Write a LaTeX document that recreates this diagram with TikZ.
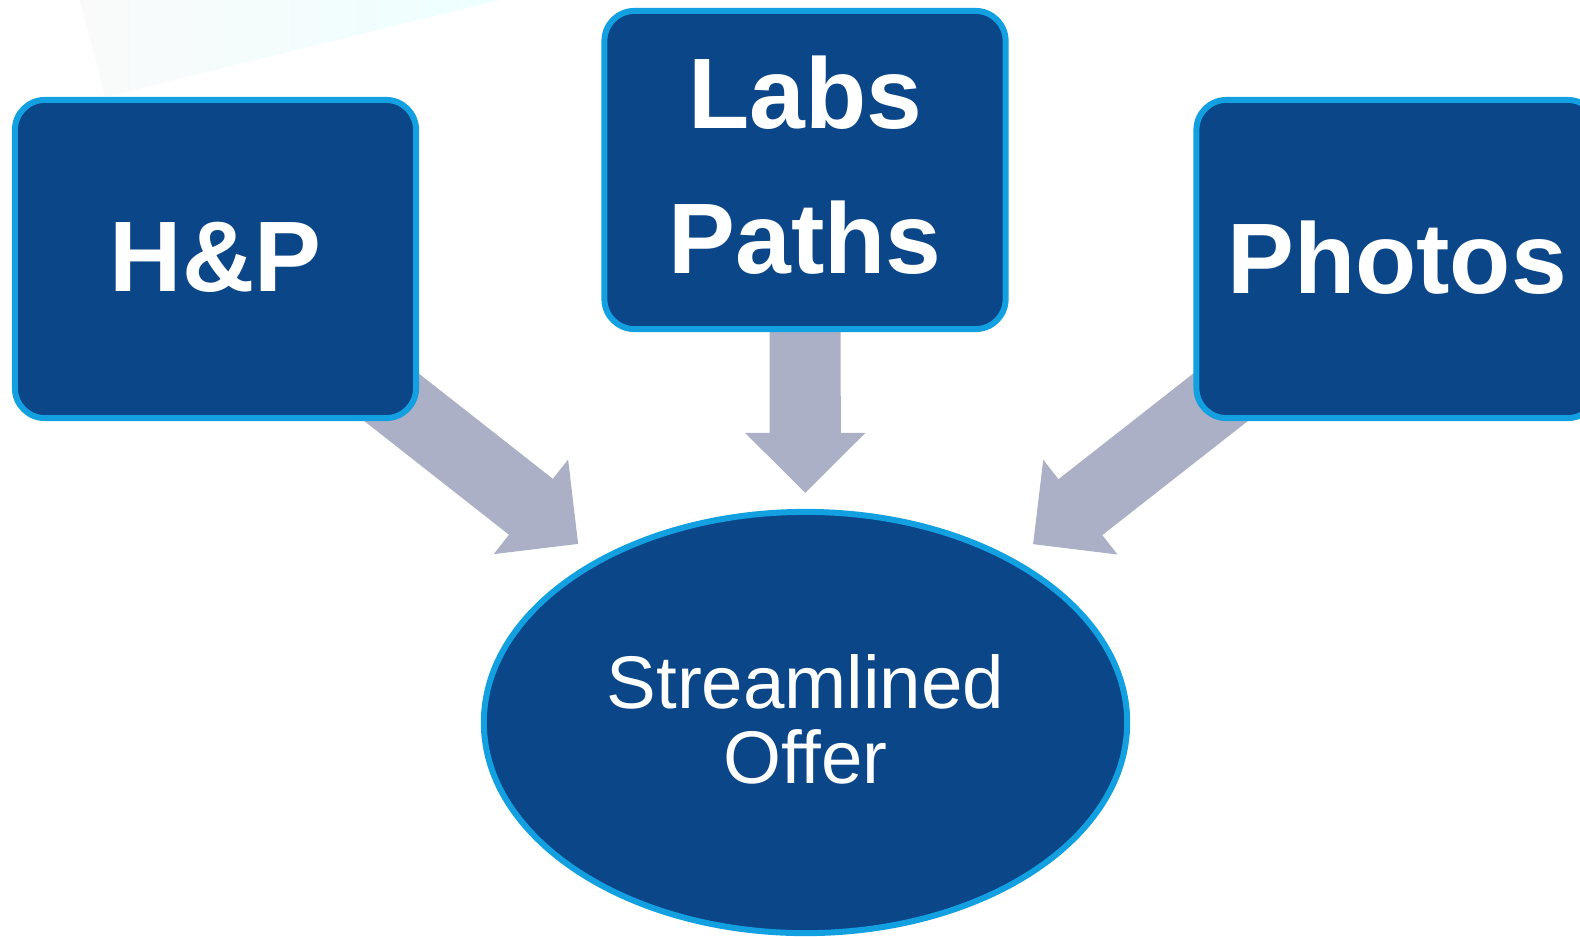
\documentclass[tikz,border=0pt]{standalone}
\usepackage{fontspec}
\setmainfont{Liberation Sans}
\usetikzlibrary{arrows.meta,shapes.geometric}
\definecolor{boxblue}{RGB}{11,70,137}
\definecolor{rimblue}{RGB}{18,160,225}
\definecolor{arrowgray}{RGB}{171,176,198}
\pgfdeclarelayer{background}
\pgfsetlayers{background,main}

\begin{document}
\begin{tikzpicture}[x=0.01cm, y=-0.01cm]
		\useasboundingbox (0,0) rectangle (1580,936);
		\tikzstyle{every node} = [fill=boxblue, draw=rimblue, line width=1.7pt, text=white, inner sep=0pt]
		\tikzstyle{card} = [rectangle, rounded corners=0.3cm, minimum width=4.01cm, minimum height=3.18cm, font=\fontsize{28.5}{41.3}\selectfont\bfseries, align=center]
		\node[card, text depth=1.2pt] (hp) at (215.5,259) {H\&P};
		\node[card, text depth=2.9pt] (labs) at (805,170) {Labs\\Paths};
		\node[card, text depth=1.2pt] (photos) at (1397,259) {Photos};
		\node[ellipse, minimum width=6.43cm, minimum height=4.21cm, font=\fontsize{21.2}{21.5}\selectfont, align=center, text depth=2pt] (offer) at (805.5,722.5) {Streamlined\\Offer};

		\tikzstyle{feed} = [draw=arrowgray, line width=0.71cm, -{Triangle[width=1.2cm, length=0.6cm, line width=0.5pt]}]
		\begin{pgfonlayer}{background}
			\shade[left color=gray!4, right color=cyan!7] (80,0) -- (500,0) -- (105,97) -- cycle;
			\draw[feed, shorten >=2.89cm] (hp.center) -- (offer.center);
			\draw[feed, shorten >=2.295cm] (labs.center) -- (offer.center);
			\draw[feed, shorten >=2.89cm] (photos.center) -- (offer.center);
		\end{pgfonlayer}
\end{tikzpicture}
\end{document}
